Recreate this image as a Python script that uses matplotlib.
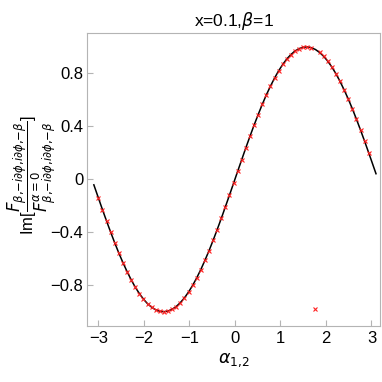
import matplotlib
matplotlib.use('Agg')
import matplotlib.pyplot as plt

# numerical points (alpha, Im ratio)
alpha = [-3.00, -2.91, -2.82, -2.73, -2.64, -2.55, -2.46, -2.37, -2.28, -2.19,
         -2.10, -2.01, -1.92, -1.83, -1.74, -1.65, -1.56, -1.47, -1.38, -1.29,
         -1.20, -1.11, -1.02, -0.93, -0.84, -0.75, -0.66, -0.57, -0.48, -0.39,
         -0.30, -0.21, -0.12, -0.03, 0.06, 0.15, 0.24, 0.33, 0.42, 0.51,
         0.60, 0.69, 0.78, 0.87, 0.96, 1.05, 1.14, 1.23, 1.32, 1.41,
         1.50, 1.59, 1.68, 1.77, 1.86, 1.95, 2.04, 2.13, 2.22, 2.31,
         2.40, 2.49, 2.58, 2.67, 2.76, 2.85, 2.94]
im_num = [-0.141, -0.230, -0.316, -0.400, -0.481, -0.558, -0.630, -0.697, -0.759, -0.815,
          -0.863, -0.905, -0.940, -0.966, -0.986, -0.997, -1.000, -0.995, -0.982, -0.961,
          -0.932, -0.896, -0.852, -0.802, -0.745, -0.682, -0.613, -0.540, -0.462, -0.380,
          -0.296, -0.208, -0.120, -0.030, 0.060, 0.149, 0.238, 0.324, 0.408, 0.488,
          0.565, 0.637, 0.703, 0.764, 0.819, 0.867, 0.909, 0.942, 0.969, 0.987,
          0.997, 1.000, 0.994, -0.980, 0.958, 0.929, 0.892, 0.848, 0.797, 0.739,
          0.675, 0.607, 0.533, 0.454, 0.372, 0.287, 0.200]

# analytic curve
alpha_line = [-3.10] + alpha + [3.10]
im_line = [-0.042, -0.141, -0.230, -0.316, -0.400, -0.481, -0.558, -0.630, -0.697, -0.759, -0.815,
           -0.863, -0.905, -0.940, -0.966, -0.986, -0.997, -1.000, -0.995, -0.982, -0.961,
           -0.932, -0.896, -0.852, -0.802, -0.745, -0.682, -0.613, -0.540, -0.462, -0.380,
           -0.296, -0.208, -0.120, -0.030, 0.060, 0.149, 0.238, 0.324, 0.408, 0.488,
           0.565, 0.637, 0.703, 0.764, 0.819, 0.867, 0.909, 0.942, 0.969, 0.987,
           0.997, 1.000, 0.994, 0.980, 0.958, 0.929, 0.892, 0.848, 0.797, 0.739,
           0.675, 0.607, 0.533, 0.454, 0.372, 0.287, 0.200, 0.042]

xticks = [-3, -2, -1, 0, 1, 2, 3]
xlabels = ['\u22123', '\u22122', '\u22121', '0', '1', '2', '3']
yticks = [-0.8, -0.4, 0, 0.4, 0.8]
ylabels = ['\u22120.8', '\u22120.4', '0', '0.4', '0.8']

plt.rcParams['font.family'] = ['Liberation Sans', 'DejaVu Sans']

fig = plt.figure(figsize=(3.82, 3.82), dpi=100)
ax = fig.add_axes([0.229, 0.147, 0.766, 0.767])

ax.plot(alpha_line, im_line, color='black', lw=1.1, zorder=2)
ax.plot(alpha, im_num, ls='none', marker='x', color='#ff2020', ms=3.5, mew=0.8, zorder=3)

ax.set_xlim(-3.24, 3.19)
ax.set_ylim(-1.107, 1.106)
ax.set_xticks(xticks)
ax.set_xticklabels(xlabels)
ax.set_yticks(yticks)
ax.set_yticklabels(ylabels)

for s in ax.spines.values():
    s.set_color('#b4b4b4')
ax.tick_params(direction='in', color='#b4b4b4', length=4, labelsize=12, labelcolor='black')
ax.tick_params(axis='y', pad=3)

ax.set_title('x=0.1,$\\beta$=1', fontsize=12.5, pad=5)
ax.set_xlabel('$\\alpha_{1{,}2}$', fontsize=12.5, labelpad=4)
sub = r'\beta{,}{-}i\partial\phi{,}i\partial\phi{,}{-}\beta'
ax.set_ylabel('Im[$\\dfrac{F_{' + sub + '}}{F^{\\alpha=0}_{' + sub + '}}$]', fontsize=12)
ax.yaxis.set_label_coords(-0.1, 0.515)

fig.savefig('out.png', dpi=100)
